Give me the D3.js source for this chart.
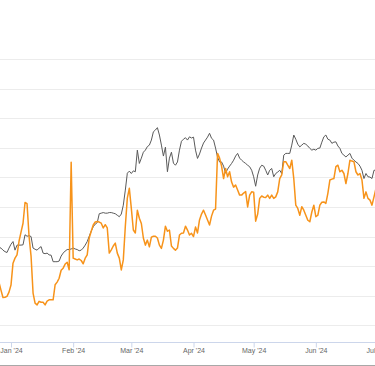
<!DOCTYPE html>
<html><head><meta charset="utf-8">
<script src="https://cdn.jsdelivr.net/npm/d3@7"></script>
<style>html,body{margin:0;padding:0;background:#fff;overflow:hidden}svg{display:block}</style>
</head><body><svg id="chart" width="375" height="366"></svg>
<script>
// Daily dates from 2023-12-26 to 2024-07-01
const startDate = "2023-12-26";
const endDate = "2024-07-02";
const grayValues = [
  36.4,36.1,35.4,34.9,34.6,36.1,
  37.4,38.3,35.4,37.1,37.1,37.1,37.2,40.6,40.1,40.3,40.0,36.1,35.7,35.4,36.1,36.6,34.4,34.2,34.4,33.8,33.7,31.5,31.5,31.5,31.7,33.4,34.4,35.1,35.6,35.6,35.8,
  36.1,35.8,35.6,35.2,35.4,36.1,37.1,38.3,40.1,41.8,43.3,44.2,44.7,47.7,47.9,48.1,47.9,47.9,48.1,48.1,47.9,47.7,47.2,46.7,47.6,50.6,55.7,61.4,62.1,
  61.3,62.2,61.9,69.2,64.7,66.5,68.5,69.2,70.4,70.9,72.6,75.4,76.0,76.8,74.3,70.9,67.2,70.2,61.9,66.5,68.5,64.8,64.1,65.2,69.2,72.2,72.9,73.4,72.6,73.7,73.3,
  73.6,69.2,66.4,67.9,69.9,71.6,72.6,73.6,74.9,73.2,72.6,69.9,66.8,65.2,65.2,63.8,61.4,62.8,63.8,64.7,65.8,67.2,68.1,66.5,65.8,65.2,64.7,64.1,63.6,62.4,
  60.2,57.0,60.8,63.1,64.1,63.8,62.4,60.8,62.4,63.0,60.2,61.3,61.8,62.4,61.3,67.5,68.1,68.1,68.1,70.9,74.3,72.9,71.2,70.3,70.9,71.5,71.2,70.6,69.8,69.2,69.5,
  69.2,69.8,69.9,71.9,73.7,74.3,72.9,72.6,71.5,71.9,72.0,70.6,69.8,68.1,67.5,66.9,67.5,68.1,66.5,65.8,65.2,64.7,63.8,62.4,59.6,61.3,60.2,60.1,59.6,62.4,
  62.4
];
const orangeValues = [
  24.6,21.9,19.4,19.5,19.8,21.2,
  23.6,31.0,32.7,33.8,38.4,41.5,44.5,51.5,51.1,40.1,33.4,20.9,17.5,16.9,18.1,17.8,17.8,16.9,18.2,18.6,18.6,18.6,23.7,24.6,25.9,28.6,29.3,30.7,31.3,28.8,65.1,
  32.7,32.4,32.1,32.4,31.9,30.8,32.7,33.8,39.5,41.8,43.9,44.9,45.1,44.9,44.5,42.9,44.0,42.9,34.4,35.5,36.8,37.8,34.4,32.7,28.7,32.1,43.4,53.0,56.3,
  49.5,42.2,41.2,48.9,46.2,44.4,39.5,37.1,38.8,36.5,39.8,40.1,40.1,39.5,37.1,36.0,38.8,43.5,41.8,42.2,36.8,36.0,35.4,36.1,40.5,41.1,41.2,43.5,42.2,40.5,41.1,
  40.0,43.2,41.2,45.6,47.6,48.9,47.3,45.6,43.9,46.9,48.9,49.3,68.1,66.5,63.8,59.6,63.0,60.2,61.9,58.4,56.7,57.4,55.7,54.0,54.0,54.7,55.2,50.0,54.0,55.1,
  55.0,45.2,47.6,52.9,53.7,53.3,53.2,54.0,52.9,54.0,52.9,53.4,55.1,59.6,60.8,65.3,65.3,64.1,63.0,65.8,59.6,50.6,49.5,47.2,50.1,48.9,47.2,45.5,45.0,48.3,50.6,
  46.7,47.2,50.6,51.6,51.7,51.2,54.6,59.1,59.4,59.6,63.6,64.1,61.9,62.4,61.3,57.9,61.3,65.8,65.5,65.3,61.9,60.8,61.3,59.1,52.9,55.1,52.9,52.3,50.6,53.4,
  56.3
];
const tickDates = ["2024-01-01","2024-02-01","2024-03-01","2024-04-01","2024-05-01","2024-06-01","2024-07-01"];
const tickLabels = ["Jan '24","Feb '24","Mar '24","Apr '24","May '24","Jun '24","Jul '24"];
const gridValues = [10,20,30,40,50,60,70,80,90,100];

const svg = d3.select("#chart");
const parse = d3.utcParse("%Y-%m-%d");
const dates = d3.utcDay.range(parse(startDate), parse(endDate));

const x = d3.scaleUtc().domain([parse("2024-01-01"), parse("2024-07-01")]).range([11, 376]);
const y = d3.scaleLinear().domain([0, 100]).range([354.9, 59]);
const plotBottom = 342;

// gridlines
svg.append("g").selectAll("line").data(gridValues).join("line")
  .attr("x1", 0).attr("x2", 375)
  .attr("y1", d => Math.round(y(d)) + 0.5).attr("y2", d => Math.round(y(d)) + 0.5)
  .attr("stroke", "#ececec").attr("stroke-width", 1);

// x axis
const xAxis = d3.axisBottom(x)
  .tickValues(tickDates.map(parse))
  .tickFormat((d, i) => tickLabels[i])
  .tickSizeInner(5).tickSizeOuter(0).tickPadding(1);
const gx = svg.append("g").attr("transform", `translate(0,${plotBottom + 0.5})`).call(xAxis);
gx.select(".domain").remove();
gx.selectAll(".tick line").attr("stroke", "#ccd6eb");
gx.selectAll(".tick text").attr("fill", "#666").attr("font-size", 7)
  .attr("font-family", "'Liberation Sans', Arial, sans-serif");
svg.append("line").attr("x1", 0).attr("x2", 375)
  .attr("y1", plotBottom + 0.5).attr("y2", plotBottom + 0.5)
  .attr("stroke", "#ccd6eb").attr("stroke-width", 1);

// bottom border line
svg.append("line").attr("x1", 0).attr("x2", 375)
  .attr("y1", 365.5).attr("y2", 365.5).attr("stroke", "#a8a8a8").attr("stroke-width", 1);

svg.append("clipPath").attr("id", "plot").append("rect")
  .attr("x", 0).attr("y", 0).attr("width", 375).attr("height", plotBottom);

const line = d3.line().x((d, i) => x(dates[i])).y(d => y(d));
const g = svg.append("g").attr("clip-path", "url(#plot)");
g.append("path").datum(grayValues).attr("d", line)
  .attr("fill", "none").attr("stroke", "#5a5a5a").attr("stroke-width", 1).attr("stroke-linejoin", "round");
g.append("path").datum(orangeValues).attr("d", line)
  .attr("fill", "none").attr("stroke", "#f7931a").attr("stroke-width", 1.5).attr("stroke-linejoin", "round");
</script>
</body></html>
